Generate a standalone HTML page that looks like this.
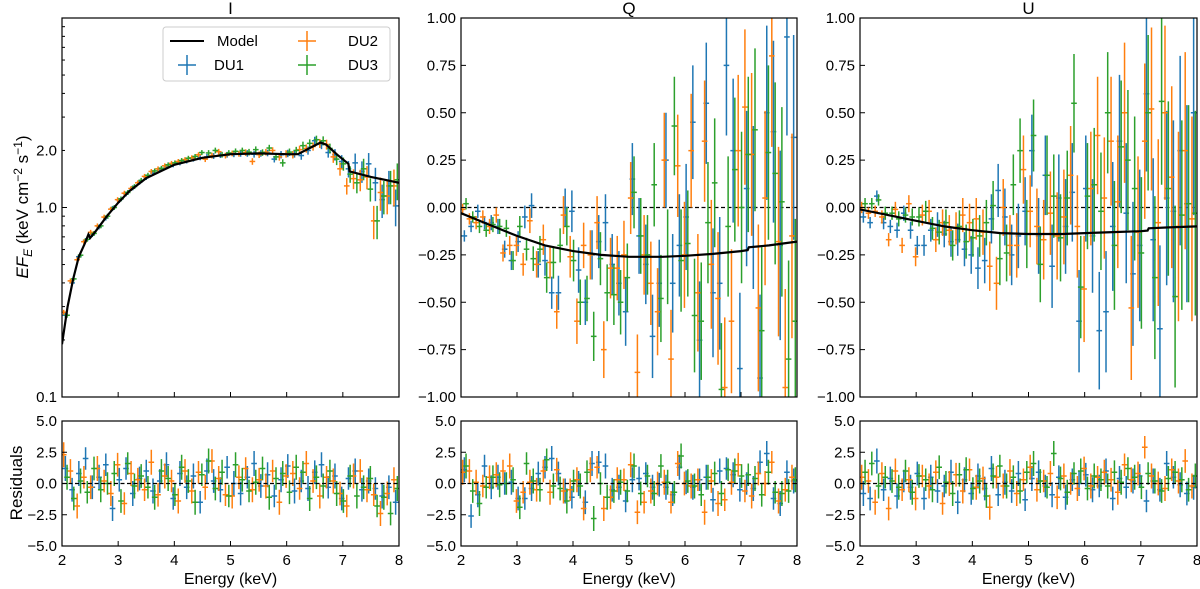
<!DOCTYPE html>
<html><head><meta charset="utf-8"><style>
html,body{margin:0;padding:0;background:#fff;}
svg{display:block;font-family:"Liberation Sans","DejaVu Sans",sans-serif;}
</style></head><body>
<svg id="fig" width="1200" height="589" viewBox="0 0 1200 589" xmlns="http://www.w3.org/2000/svg"></svg>
<script>
const energies=[2.06,2.18,2.30,2.42,2.54,2.66,2.78,2.90,3.02,3.14,3.26,3.38,3.50,3.62,3.74,3.86,3.98,4.10,4.22,4.34,4.46,4.58,4.70,4.82,4.94,5.06,5.18,5.30,5.42,5.54,5.66,5.78,5.90,6.02,6.14,6.26,6.38,6.50,6.62,6.74,6.86,6.98,7.10,7.22,7.34,7.46,7.58,7.70,7.82,7.94];
const modelIE=[2.0,2.1,2.2,2.3,2.4,2.47,2.5,2.6,2.8,3.0,3.2,3.5,4.0,4.5,5.0,5.5,6.0,6.2,6.4,6.6,6.7,6.9,7.1,7.12,7.5,8.0];
const modelIV=[0.19,0.3,0.42,0.55,0.64,0.72,0.69,0.75,0.9,1.06,1.22,1.43,1.68,1.83,1.91,1.93,1.91,1.91,2.05,2.2,2.15,1.9,1.7,1.55,1.45,1.35];
const modelQE=[2.0,2.5,3.0,3.5,4.0,4.5,5.0,5.3,5.6,6.0,6.5,7.0,7.12,7.14,7.5,8.0];
const modelQV=[-0.03,-0.09,-0.15,-0.20,-0.23,-0.25,-0.26,-0.26,-0.26,-0.255,-0.245,-0.23,-0.225,-0.21,-0.20,-0.18];
const modelUE=[2.0,2.5,3.0,3.5,4.0,4.5,5.0,5.3,5.6,6.0,6.5,7.0,7.12,7.14,7.5,8.0];
const modelUV=[-0.01,-0.04,-0.07,-0.10,-0.12,-0.135,-0.14,-0.14,-0.14,-0.135,-0.13,-0.125,-0.122,-0.11,-0.105,-0.10];
const iDU1=[0.27,0.40,0.55,0.67,0.72,0.79,0.88,0.99,1.09,1.18,1.27,1.36,1.44,1.52,1.58,1.64,1.68,1.72,1.76,1.80,1.83,1.85,1.87,1.89,1.90,1.91,1.92,1.93,1.91,1.93,1.94,1.80,1.90,1.93,1.92,1.88,2.00,2.25,2.15,1.95,1.90,1.75,1.60,1.72,1.55,1.70,1.35,1.10,1.30,1.02];
const iDU2=[0.28,0.41,0.53,0.66,0.74,0.80,0.89,0.98,1.10,1.19,1.26,1.35,1.46,1.55,1.60,1.66,1.71,1.75,1.79,1.83,1.90,1.80,1.88,1.97,1.88,1.93,1.92,1.95,1.75,1.90,1.96,2.00,1.85,1.92,1.90,2.02,2.05,2.10,2.18,2.15,1.85,1.60,1.30,1.42,1.40,1.45,0.85,1.20,1.15,1.30];
const iDU3=[0.27,0.42,0.56,0.68,0.73,0.80,0.90,1.00,1.11,1.20,1.29,1.39,1.48,1.56,1.61,1.68,1.72,1.77,1.82,1.86,1.95,1.94,2.00,1.90,1.94,1.98,2.00,1.96,2.02,1.95,2.06,1.85,1.72,1.96,2.00,2.12,2.18,2.28,2.25,2.05,1.80,1.70,1.50,1.35,1.60,1.25,0.85,1.15,1.30,1.40];
const iRelErr=[0.03,0.03,0.03,0.03,0.03,0.03,0.03,0.03,0.03,0.03,0.03,0.03,0.03,0.03,0.03,0.03,0.03,0.03,0.03,0.03,0.03,0.035,0.035,0.035,0.035,0.035,0.035,0.04,0.04,0.04,0.04,0.04,0.045,0.045,0.045,0.05,0.05,0.05,0.055,0.06,0.07,0.08,0.10,0.12,0.13,0.14,0.20,0.20,0.20,0.22];
const qDU1=[-0.15,-0.10,-0.02,-0.08,-0.08,-0.10,-0.22,-0.28,-0.18,-0.05,0.01,-0.30,-0.28,-0.45,-0.45,0.00,-0.02,-0.33,-0.50,-0.25,-0.18,-0.08,-0.30,-0.40,-0.55,0.15,-0.15,-0.30,-0.68,-0.40,0.25,-0.40,-0.20,-0.05,0.45,-0.70,0.55,-0.45,-0.40,0.75,0.30,-0.85,0.10,0.00,-0.90,0.50,0.40,-0.20,0.90,0.37];
const qDU2=[-0.01,-0.06,-0.08,-0.05,-0.10,-0.04,-0.24,-0.20,-0.20,-0.30,-0.07,-0.30,-0.17,-0.29,-0.55,-0.04,-0.26,-0.60,-0.20,-0.25,-0.08,-0.75,-0.32,-0.32,-0.25,0.05,-0.87,-0.25,-0.40,-0.55,0.25,-0.80,0.22,-0.25,0.30,-0.45,0.35,-0.30,-0.48,-0.95,-0.60,0.30,0.53,0.28,-0.53,0.05,0.80,-0.18,-0.95,-0.15];
const qDU3=[0.02,-0.05,-0.10,-0.12,-0.09,-0.10,-0.11,-0.28,-0.10,-0.22,-0.27,-0.22,-0.37,-0.29,-0.20,-0.10,-0.28,-0.50,-0.48,-0.68,-0.27,-0.45,-0.46,-0.50,-0.37,0.08,-0.15,-0.25,0.12,-0.48,-0.26,0.43,-0.28,-0.19,-0.57,-0.60,-0.08,0.13,-0.96,-0.10,0.20,0.00,0.28,0.41,-0.65,0.29,0.18,0.03,-0.80,-0.60];
const qErr=[0.03,0.03,0.035,0.035,0.04,0.04,0.045,0.05,0.055,0.06,0.065,0.07,0.08,0.085,0.09,0.10,0.11,0.12,0.12,0.13,0.14,0.15,0.16,0.17,0.18,0.19,0.20,0.21,0.22,0.23,0.25,0.26,0.27,0.28,0.30,0.31,0.32,0.34,0.35,0.37,0.38,0.40,0.41,0.43,0.44,0.46,0.48,0.50,0.52,0.54];
const uDU1=[-0.05,-0.08,0.06,-0.08,-0.10,-0.12,-0.03,-0.12,-0.20,-0.20,-0.12,-0.09,-0.14,-0.18,-0.17,-0.22,-0.25,-0.32,-0.28,-0.06,0.09,-0.05,-0.25,-0.15,-0.02,0.30,-0.15,0.17,-0.31,0.05,-0.10,0.08,-0.60,0.10,-0.15,-0.65,-0.55,-0.10,0.35,-0.03,-0.35,-0.20,0.60,-0.17,-0.64,0.05,-0.02,0.30,0.02,0.50];
const uDU2=[0.00,-0.03,-0.02,-0.05,-0.17,-0.01,-0.20,0.02,-0.26,-0.04,-0.02,-0.17,-0.08,-0.12,-0.11,-0.04,-0.08,-0.06,-0.13,-0.31,-0.40,0.00,-0.20,-0.20,0.20,-0.02,-0.10,-0.17,-0.03,-0.15,-0.05,0.17,-0.10,-0.43,0.10,0.38,0.05,0.35,0.03,0.50,-0.53,-0.13,0.35,0.52,-0.08,0.50,0.16,-0.10,0.30,-0.06];
const uDU3=[0.02,0.02,0.04,-0.03,-0.03,-0.06,-0.04,-0.05,-0.05,-0.02,-0.11,-0.13,-0.08,-0.20,-0.10,-0.18,-0.16,-0.15,-0.08,0.01,-0.27,-0.24,0.12,0.30,-0.14,0.38,-0.30,0.17,0.06,-0.16,0.05,0.55,-0.42,0.06,0.12,-0.02,0.50,-0.20,0.32,0.25,0.10,-0.24,0.50,-0.37,0.56,0.10,-0.47,-0.04,0.02,-0.03];
const uErr=[0.03,0.03,0.03,0.035,0.035,0.04,0.04,0.045,0.05,0.055,0.06,0.065,0.07,0.08,0.085,0.09,0.10,0.11,0.12,0.13,0.14,0.15,0.16,0.17,0.18,0.19,0.20,0.21,0.22,0.23,0.25,0.26,0.27,0.28,0.30,0.31,0.32,0.34,0.35,0.37,0.38,0.40,0.41,0.43,0.44,0.46,0.48,0.50,0.52,0.54];
const rIDU1=[1.2,-0.5,0.8,2.0,-0.3,0.5,1.5,-2.0,0.3,1.2,-0.8,0.4,1.0,-0.6,0.2,1.5,-1.2,0.8,-0.3,0.6,-1.5,1.0,0.2,-0.5,1.3,0.0,-0.8,0.5,1.6,-0.2,0.7,-1.0,0.3,1.4,-0.6,0.2,-0.4,0.9,1.5,-0.3,0.6,-1.2,0.4,1.0,-0.5,0.2,-0.4,-1.0,-0.3,-1.5];
const rIDU2=[2.3,1.0,-1.8,0.5,-0.3,1.2,0.2,-0.8,1.5,-1.6,0.8,0.3,-0.5,1.7,-0.9,0.6,0.2,-1.4,1.0,-0.6,0.9,-0.3,1.8,0.4,-0.9,-1.0,0.5,1.2,-0.5,0.3,-0.2,1.0,-1.5,0.6,0.8,-0.4,1.6,0.2,-1.0,0.5,0.2,-0.8,-1.8,0.6,1.0,-0.5,-0.9,-2.4,-0.8,0.3];
const rIDU3=[0.5,-1.2,0.2,-0.7,1.2,-0.5,0.0,0.8,-1.4,1.6,-0.2,0.6,-0.3,-1.1,1.0,0.4,-0.9,1.3,0.2,-1.5,0.7,1.8,-0.4,0.9,-1.0,1.5,0.3,-0.6,0.1,1.2,-1.1,0.4,0.8,-0.7,1.3,0.9,-1.2,0.5,-0.2,1.0,-0.8,-1.4,0.6,-1.0,-0.3,0.4,-1.8,-1.1,-2.4,-0.4];
const rQDU1=[1.1,-2.6,-0.9,1.4,-0.3,0.5,0.0,0.1,-1.2,-1.2,-0.4,0.8,1.3,2.0,0.8,-0.6,-1.1,0.0,-1.5,1.6,1.7,1.4,-0.5,-0.3,-1.4,0.3,0.4,0.8,-0.3,-0.1,-0.3,-0.9,1.3,0.1,-0.3,0.3,0.5,-1.3,1.0,1.2,0.7,-0.5,0.0,-0.4,1.7,2.4,-1.2,-1.6,0.9,0.2];
const rQDU2=[0.9,1.0,0.1,-0.2,0.5,0.7,1.0,1.4,-1.4,-0.7,0.1,-0.5,1.0,-0.7,1.1,-0.6,-0.5,0.3,-2.0,1.1,1.3,-2.0,-1.1,0.3,0.3,1.5,-2.3,-1.5,-0.6,0.0,0.1,-1.5,1.6,0.0,-0.2,0.3,-2.3,0.2,-1.6,-1.3,0.1,1.5,-0.6,-1.0,0.8,0.0,1.7,-1.4,-0.5,0.5];
const rQDU3=[1.4,-0.6,-1.6,-0.3,0.5,-0.1,0.0,0.3,-1.9,1.6,0.2,-0.5,1.9,-0.2,-0.4,-1.4,0.2,-0.2,0.9,-2.8,0.0,-1.1,-0.6,0.1,-0.6,1.4,-0.8,0.6,-0.8,1.4,0.1,-0.7,2.2,0.2,-0.2,-0.9,0.5,0.8,-0.8,1.1,1.0,0.6,0.7,0.4,-0.9,0.9,-0.7,-0.8,-0.6,0.3];
const rUDU1=[-0.8,-1.2,1.8,-0.5,0.4,-1.0,0.2,-0.3,0.8,-1.2,0.5,-0.6,-0.2,0.9,-1.5,0.3,-0.8,0.6,-0.4,1.2,-0.9,0.1,-0.6,0.8,-1.3,0.4,0.9,-0.2,-0.9,0.5,-1.1,0.3,0.0,0.7,-0.5,-0.2,1.0,-1.2,0.4,-0.3,0.2,0.6,-1.4,0.2,-0.5,1.6,0.5,-0.1,-0.8,-0.3];
const rUDU2=[0.5,0.2,-1.5,0.8,-2.0,1.0,-0.5,0.3,-1.2,0.6,-0.2,0.9,-1.6,0.0,0.7,-0.6,1.1,-0.3,0.4,-1.9,0.5,-0.2,1.0,-0.8,0.3,1.3,-0.5,0.2,0.8,-1.1,0.6,0.0,-0.4,1.2,-0.2,0.5,0.9,0.3,-0.7,1.5,0.3,0.8,2.9,0.6,0.0,-0.4,1.1,0.2,1.8,-0.2];
const rUDU3=[0.9,1.6,-0.2,0.5,0.2,-0.3,1.0,-0.7,0.6,0.3,-0.5,1.3,0.1,-0.8,0.7,1.1,-0.4,0.2,-1.0,0.6,1.4,-0.2,0.5,-0.6,0.9,1.6,0.2,-0.3,2.4,0.4,-0.7,0.8,1.0,-0.4,0.6,0.3,-0.2,0.9,0.1,1.2,0.5,-0.3,0.8,0.2,-0.6,0.4,0.9,0.3,-0.5,0.6];
const resErr=[1.0,0.95,1.0,0.9,0.95,1.0,0.9,1.0,0.95,0.9,1.0,0.95,0.9,1.0,0.95,1.0,0.9,1.0,0.95,1.0,0.9,1.0,0.95,1.0,0.9,1.0,0.95,0.9,1.0,0.95,1.0,0.9,1.0,0.95,1.0,0.9,1.0,0.95,1.0,0.9,1.0,0.95,0.9,1.0,0.95,1.0,0.9,1.0,0.95,1.0];
const qTicks=["1.00","0.75","0.50","0.25","0.00","\u22120.25","\u22120.50","\u22120.75","\u22121.00"];
const rTicks=["5.0","2.5","0.0","\u22122.5","\u22125.0"];
const xTicks=["2","3","4","5","6","7","8"];

const NS="http://www.w3.org/2000/svg";
const svg=document.getElementById('fig');
const C1="#1f77b4",C2="#ff7f0e",C3="#2ca02c";
function mk(tag,attrs,parent){const e=document.createElementNS(NS,tag);for(const k in attrs)e.setAttribute(k,attrs[k]);(parent||svg).appendChild(e);return e;}
const panelsX=[[62,399],[461,797],[860,1197]];
const mainY=[18,397], resY=[421,546];
function xs(p){return e=>p[0]+(e-2)/6*(p[1]-p[0]);}
function linY(lo,hi,r){return v=>r[1]-(v-lo)/(hi-lo)*(r[1]-r[0]);}
function logY(v){return mainY[1]-(Math.log10(v)+1)/2*(mainY[1]-mainY[0]);}

function drawSeries(g,X,Y,vals,errFn,color,dx,lo,hi,name){
  const sg=mk('g',{},g);
  
  
  for(let i=0;i<energies.length;i++){
    const e=energies[i]+dx, v=vals[i];
    const [a,b]=errFn(i,v);
    const x=X(e);
    let y1=Y(Math.min(hi,Math.max(lo,a))), y2=Y(Math.min(hi,Math.max(lo,b)));
    const eb=mk('g',{},sg);
    
    
    mk('line',{x1:x,x2:x,y1:y1,y2:y2,stroke:color,'stroke-width':1.5},eb);
    if(v>=lo&&v<=hi){const y=Y(v);mk('line',{x1:X(e-0.05),x2:X(e+0.05),y1:y,y2:y,stroke:color,'stroke-width':1.5},eb);}
  }
}
function frame(g,p,yr){mk('rect',{x:p[0],y:yr[0],width:p[1]-p[0],height:yr[1]-yr[0],fill:'none',stroke:'#000','stroke-width':1.2},g);}
function xAxis(g,p,yr,labels,name){
  const X=xs(p);
  const ax=mk('g',{},g);
  
  
  for(let k=0;k<xTicks.length;k++){const x=X(2+k);
    mk('line',{x1:x,x2:x,y1:yr[1],y2:yr[1]-5,stroke:'#000','stroke-width':1},ax);
    if(labels){const t=mk('text',{x:x,y:yr[1]+19,'text-anchor':'middle','font-size':15},ax);t.textContent=xTicks[k];}}
}
function yAxisLin(g,p,yr,ticks,lo,hi,name){
  const Y=linY(lo,hi,yr);
  const ax=mk('g',{},g);
  
  
  for(let k=0;k<ticks.length;k++){const v=hi-k*(hi-lo)/(ticks.length-1);const y=Y(v);
    mk('line',{x1:p[0],x2:p[0]+5,y1:y,y2:y,stroke:'#000','stroke-width':1},ax);
    const t=mk('text',{x:p[0]-5,y:y+5,'text-anchor':'end','font-size':15},ax);t.textContent=ticks[k];}
}
function modelLine(g,X,Y,E,V,name){
  let d='';for(let i=0;i<E.length;i++){d+=(i?'L':'M')+X(E[i]).toFixed(1)+','+Y(V[i]).toFixed(1);}
  const l=mk('path',{d:d,fill:'none',stroke:'#000','stroke-width':2.2},g);
  
  
}
function zeroLine(g,p,Y){const z=mk('line',{x1:p[0],x2:p[1],y1:Y(0),y2:Y(0),stroke:'#000','stroke-width':1.2,'stroke-dasharray':'4,2.5'},g);
  
  }
function clip(id,p,yr){const cp=mk('clipPath',{id:id});mk('rect',{x:p[0],y:yr[0],width:p[1]-p[0],height:yr[1]-yr[0]},cp);}

// ---- I panel ----
{
 const p=panelsX[0];const X=xs(p);
 const g=mk('g',{});
 
 
 clip('ci',p,mainY);
 const dg=mk('g',{'clip-path':'url(#ci)'},g);
 const errI=(i,v)=>[v*(1-iRelErr[i]),v*(1+iRelErr[i])];
 drawSeries(dg,X,logY,iDU1,errI,C1,0,0.1,10,'i-du1-series');
 drawSeries(dg,X,logY,iDU2,errI,C2,-0.03,0.1,10,'i-du2-series');
 drawSeries(dg,X,logY,iDU3,errI,C3,0.03,0.1,10,'i-du3-series');
 modelLine(dg,X,logY,modelIE,modelIV,'i-model-line');
 frame(g,p,mainY);xAxis(g,p,mainY,false,'i-x-axis');
 const ax=mk('g',{},g);
 
 
 for(let dec=-1;dec<=0;dec++)for(let m=1;m<=9;m++){const v=m*Math.pow(10,dec);const y=logY(v);const major=(m===1);
   mk('line',{x1:p[0],x2:p[0]+(major?5:3),y1:y,y2:y,stroke:'#000','stroke-width':1},ax);}
 [['0.1',0.1],['1.0',1],['2.0',2]].forEach(([s,v])=>{const t=mk('text',{x:p[0]-5,y:logY(v)+5,'text-anchor':'end','font-size':15},ax);t.textContent=s;});
 const t=mk('text',{x:0,y:0,'font-size':17,transform:'translate(28,207) rotate(-90)','text-anchor':'middle'},g);
 
 
 t.innerHTML='<tspan font-style="italic">EF</tspan><tspan font-style="italic" font-size="12" dy="4">E</tspan><tspan dy="-4"> (keV cm</tspan><tspan font-size="12" dy="-6">\u22122</tspan><tspan dy="6"> s</tspan><tspan font-size="12" dy="-6">\u22121</tspan><tspan dy="6">)</tspan>';
 const ti=mk('text',{x:(p[0]+p[1])/2,y:14,'text-anchor':'middle','font-size':17},g);ti.textContent='I';
 
 
 const lg=mk('g',{},g);
 
 
 mk('rect',{x:163,y:27,width:227,height:54,rx:3,fill:'#fff',stroke:'#ccc','stroke-width':1},lg);
 const entries=[['Model',null,170,41],['DU1',C1,170,65],['DU2',C2,290,41],['DU3',C3,290,65]];
 entries.forEach(([lab,col,x,y])=>{
   const eg=mk('g',{},lg);
   
   
   if(!col){mk('line',{x1:x,x2:x+34,y1:y,y2:y,stroke:'#000','stroke-width':2},eg);}
   else{mk('line',{x1:x+17,x2:x+17,y1:y-10,y2:y+10,stroke:col,'stroke-width':1.5},eg);mk('line',{x1:x+8,x2:x+26,y1:y,y2:y,stroke:col,'stroke-width':1.5},eg);}
   const tt=mk('text',{x:(lab==='Model'?217:(x===170?214:348)),y:y+5,'font-size':15},eg);tt.textContent=lab;
 });
}
function polPanel(idx,title,d1,d2,d3,err,mE,mV,key){
 const p=panelsX[idx];const X=xs(p);const Y=linY(-1,1,mainY);
 const g=mk('g',{});
 
 
 clip('c'+key,p,mainY);
 const dg=mk('g',{'clip-path':'url(#c'+key+')'},g);
 const ef=(i,v)=>[v-err[i],v+err[i]];
 zeroLine(dg,p,Y);
 drawSeries(dg,X,Y,d1,ef,C1,0,-1.2,1.2,key+'-du1-series');
 drawSeries(dg,X,Y,d2,ef,C2,-0.03,-1.2,1.2,key+'-du2-series');
 drawSeries(dg,X,Y,d3,ef,C3,0.03,-1.2,1.2,key+'-du3-series');
 modelLine(dg,X,Y,mE,mV,key+'-model-line');
 frame(g,p,mainY);xAxis(g,p,mainY,false,key+'-x-axis');
 yAxisLin(g,p,mainY,qTicks,-1,1,key+'-y-axis');
 const ti=mk('text',{x:(p[0]+p[1])/2,y:14,'text-anchor':'middle','font-size':17},g);ti.textContent=title;
 
 
}
polPanel(1,'Q',qDU1,qDU2,qDU3,qErr,modelQE,modelQV,'q');
polPanel(2,'U',uDU1,uDU2,uDU3,uErr,modelUE,modelUV,'u');
function resPanel(idx,d1,d2,d3,key){
 const p=panelsX[idx];const X=xs(p);const Y=linY(-5,5,resY);
 const g=mk('g',{});
 
 
 clip('cr'+key,p,resY);
 const dg=mk('g',{'clip-path':'url(#cr'+key+')'},g);
 const ef=(i,v)=>[v-resErr[i],v+resErr[i]];
 drawSeries(dg,X,Y,d1,ef,C1,0,-5,5,key+'-res-du1');
 drawSeries(dg,X,Y,d2,ef,C2,-0.03,-5,5,key+'-res-du2');
 drawSeries(dg,X,Y,d3,ef,C3,0.03,-5,5,key+'-res-du3');
 zeroLine(dg,p,Y);
 frame(g,p,resY);xAxis(g,p,resY,true,key+'-res-x-axis');
 yAxisLin(g,p,resY,rTicks,-5,5,key+'-res-y-axis');
 const xl=mk('text',{x:(p[0]+p[1])/2,y:584,'text-anchor':'middle','font-size':16},g);xl.textContent='Energy (keV)';
 
 
}
resPanel(0,rIDU1,rIDU2,rIDU3,'i');
resPanel(1,rQDU1,rQDU2,rQDU3,'q');
resPanel(2,rUDU1,rUDU2,rUDU3,'u');
const rl=mk('text',{x:0,y:0,'font-size':17,transform:'translate(22,483) rotate(-90)','text-anchor':'middle'});
rl.textContent='Residuals';


</script>
</body></html>
